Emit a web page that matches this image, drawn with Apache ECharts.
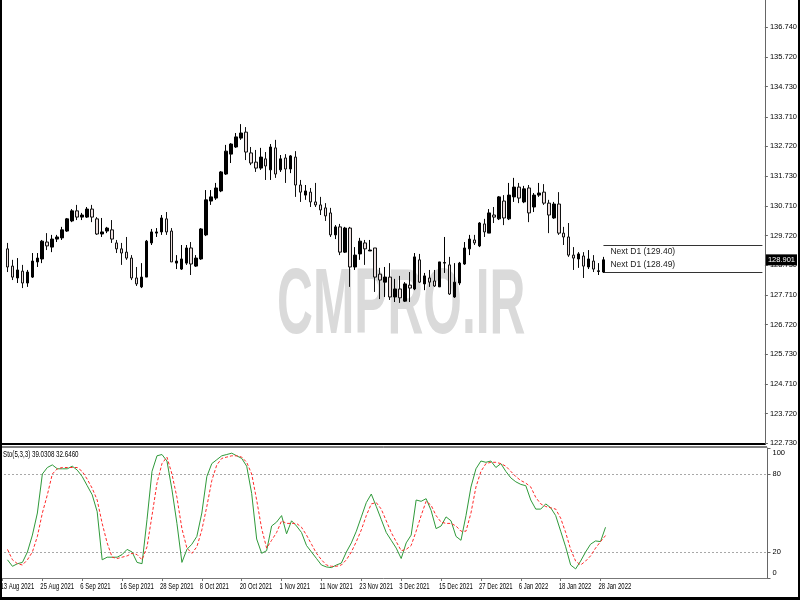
<!DOCTYPE html>
<html><head><meta charset="utf-8">
<script src="https://cdn.jsdelivr.net/npm/echarts@6/dist/echarts.min.js"></script>
<style>html,body{margin:0;padding:0;background:#fff}#c{width:800px;height:600px}</style>
</head><body><div id="c"></div>
<script>
// ---------- data ----------
const leftLabel = '13 Aug 2021';
const dates = [
 '16 Aug 2021','17 Aug 2021','18 Aug 2021','19 Aug 2021','20 Aug 2021','23 Aug 2021','24 Aug 2021','25 Aug 2021','26 Aug 2021','27 Aug 2021','30 Aug 2021','31 Aug 2021',
 '1 Sep 2021','2 Sep 2021','3 Sep 2021','6 Sep 2021','7 Sep 2021','8 Sep 2021','9 Sep 2021','10 Sep 2021','13 Sep 2021','14 Sep 2021','15 Sep 2021','16 Sep 2021','17 Sep 2021','20 Sep 2021','21 Sep 2021','22 Sep 2021','23 Sep 2021','24 Sep 2021','27 Sep 2021','28 Sep 2021','29 Sep 2021','30 Sep 2021',
 '1 Oct 2021','4 Oct 2021','5 Oct 2021','6 Oct 2021','7 Oct 2021','8 Oct 2021','11 Oct 2021','12 Oct 2021','13 Oct 2021','14 Oct 2021','15 Oct 2021','18 Oct 2021','19 Oct 2021','20 Oct 2021','21 Oct 2021','22 Oct 2021','25 Oct 2021','26 Oct 2021','27 Oct 2021','28 Oct 2021','29 Oct 2021',
 '1 Nov 2021','2 Nov 2021','3 Nov 2021','4 Nov 2021','5 Nov 2021','8 Nov 2021','9 Nov 2021','10 Nov 2021','11 Nov 2021','12 Nov 2021','15 Nov 2021','16 Nov 2021','17 Nov 2021','18 Nov 2021','19 Nov 2021','22 Nov 2021','23 Nov 2021','24 Nov 2021','25 Nov 2021','26 Nov 2021','29 Nov 2021','30 Nov 2021',
 '1 Dec 2021','2 Dec 2021','3 Dec 2021','6 Dec 2021','7 Dec 2021','8 Dec 2021','9 Dec 2021','10 Dec 2021','13 Dec 2021','14 Dec 2021','15 Dec 2021','16 Dec 2021','17 Dec 2021','20 Dec 2021','21 Dec 2021','22 Dec 2021','23 Dec 2021','24 Dec 2021','27 Dec 2021','28 Dec 2021','29 Dec 2021','30 Dec 2021','31 Dec 2021',
 '3 Jan 2022','4 Jan 2022','5 Jan 2022','6 Jan 2022','7 Jan 2022','10 Jan 2022','11 Jan 2022','12 Jan 2022','13 Jan 2022','14 Jan 2022','17 Jan 2022','18 Jan 2022','19 Jan 2022','20 Jan 2022','21 Jan 2022','24 Jan 2022','25 Jan 2022','26 Jan 2022','27 Jan 2022','28 Jan 2022','31 Jan 2022'
];
const open = [
 129.27,128.69,128.29,128.52,128.12,128.32,128.83,128.93,129.50,129.33,
 129.60,129.64,129.87,130.21,130.55,130.34,130.34,130.61,130.28,129.77,
 129.87,129.91,129.47,129.27,129.16,128.96,128.29,127.99,128.32,129.47,
 129.80,129.84,130.28,129.87,128.79,128.59,128.79,129.30,128.69,128.93,
 129.74,130.88,130.98,131.22,131.79,132.46,132.70,133.00,133.20,132.50,
 132.19,131.99,132.30,131.93,132.67,131.93,132.33,131.96,132.36,131.42,
 131.08,131.18,130.85,130.75,130.65,130.48,129.74,130.01,129.16,129.97,
 128.66,129.10,129.47,129.20,129.30,128.42,128.15,128.32,127.65,127.92,
 127.51,128.05,127.92,128.90,128.09,128.29,128.19,127.99,128.79,128.73,
 127.65,128.12,128.76,129.27,129.57,129.37,130.11,129.80,130.41,130.28,
 130.88,130.28,131.02,131.35,130.85,131.32,130.68,131.08,131.18,130.81,
 130.31,130.78,129.80,129.67,129.06,128.93,129.03,128.66,128.86,128.51,
 128.49
];
const close = [
 128.66,128.32,128.56,128.12,128.49,128.86,128.96,129.53,129.37,129.60,
 129.67,129.91,130.28,130.55,130.34,130.41,130.61,130.34,129.77,129.84,
 129.97,129.60,129.27,129.13,128.96,128.29,128.09,128.32,129.53,129.84,
 129.84,130.31,129.84,128.83,128.86,128.93,129.30,128.76,128.96,129.94,
 130.92,131.02,131.32,131.86,132.56,132.80,133.04,133.17,132.53,132.16,
 131.99,132.36,132.06,132.70,131.79,132.30,131.96,132.40,131.42,131.18,
 131.22,130.85,130.75,130.58,130.38,129.74,130.01,129.16,129.97,128.66,
 129.06,129.53,129.27,129.23,128.32,128.22,128.32,127.65,127.92,127.62,
 128.09,127.95,129.00,128.15,128.36,128.15,128.02,128.83,128.81,127.75,
 128.15,128.79,129.30,129.60,129.47,130.14,129.84,130.48,130.34,131.02,
 130.31,131.08,131.35,130.98,131.29,130.48,131.08,131.15,130.81,130.41,
 130.78,129.80,129.67,129.06,128.96,129.10,128.69,128.93,128.59,128.53,
 128.901
];
const low = [
 128.49,128.22,128.12,127.95,127.99,128.29,128.66,128.79,129.23,129.16,
 129.50,129.57,129.84,130.17,130.24,130.24,130.31,130.17,129.74,129.67,
 129.80,129.47,129.13,128.73,128.90,128.22,128.02,127.95,128.32,129.40,
 129.67,129.74,129.74,128.83,128.59,128.56,128.73,128.39,128.66,128.90,
 129.70,130.75,130.92,131.18,131.76,132.16,132.67,132.94,132.26,132.09,
 131.86,131.93,131.59,131.59,131.66,131.86,131.49,131.82,131.02,130.85,
 130.92,130.68,130.68,130.41,130.21,129.67,129.60,129.06,129.13,127.99,
 128.56,128.90,128.73,129.20,127.82,127.58,127.65,127.55,127.48,127.45,
 127.48,127.48,127.88,128.12,127.88,127.99,127.99,127.99,128.46,127.72,
 127.62,128.05,128.73,129.06,129.40,129.33,129.67,129.80,130.14,130.24,
 130.07,130.24,130.85,130.81,130.81,130.17,130.51,131.02,130.75,129.80,
 130.28,129.74,129.40,129.00,128.56,128.63,128.29,128.59,128.49,128.39,
 128.46
];
const high = [
 129.47,128.90,128.96,128.73,128.56,129.13,129.13,129.57,129.80,129.74,
 129.74,130.01,130.31,130.61,130.75,130.48,130.68,130.75,130.34,130.31,
 130.01,130.24,129.57,129.47,129.67,129.06,128.66,128.79,129.57,129.94,
 129.97,130.41,130.51,129.97,129.06,129.40,129.40,129.50,129.06,129.97,
 131.25,131.25,131.49,131.89,132.77,132.83,133.17,133.47,133.37,132.70,
 132.60,132.67,132.53,132.80,132.94,132.43,132.46,132.43,132.56,131.59,
 131.42,131.32,131.49,131.02,130.81,130.65,130.07,130.11,130.01,130.01,
 129.33,129.64,129.57,129.57,129.30,128.63,128.66,128.79,128.26,128.36,
 128.15,128.49,129.13,129.10,128.46,128.56,128.56,128.83,129.67,129.00,
 128.79,128.83,129.50,129.74,129.74,130.17,130.28,130.61,130.68,131.05,
 131.08,131.49,131.66,131.49,131.39,131.42,131.15,131.49,131.45,130.92,
 130.85,131.18,130.01,130.14,129.33,129.16,129.16,129.23,129.06,128.79,
 129.00
];
const stochK = [
 14,9,11,12,20,33,50,80,85,87,
 84,84,84,86,83,78,71,64,51,14,
 16,16,16,18,22,20,12,11,45,82,
 94,95,90,68,42,12,22,26,32,50,
 78,88,91,94,95,96,94,92,86,65,
 30,19,21,40,43,48,34,44,40,35,
 25,20,15,10,8.5,8,10,11.5,20,27,
 36,47,58,64.6,55,45,35,29,23,15,
 27,33,60,59,61,52,38,40,47,44,
 32,29,48,70,84,90,89,90,85,88,
 82,77,74,72,71,60,53,53,57,54,
 48,36,24,10,7,13,20,26,28.5,28,
 39.0308
];
const stochD = [
 22,14,11,10,14,20,32,50,64,80,
 84,85,85,85,85,82,76,69,60,42,
 27,16,15,16,17,19,18,14,24,48,
 73,88,93,80,62,38,23,19,24,37,
 55,75,87,92,93,94,94,93,89,80,
 60,38,23,29,35,44,42,42,42,39,
 33,26,19,14,10,9,9,10,14,20,
 28,37,48,57,58,53,44,35,28,21,
 22,25,36,48,59,56,48,43,42,42,
 40,36,36,50,70,82,88,89,89,88,
 86,82,78,75,73,70,62,57,55,54,
 53,46,35,22,13,10,13,17,23,28,
 32.646
];
const priceTicks = [136.740,135.720,134.730,133.710,132.720,131.730,130.710,129.720,128.730,127.710,126.720,125.730,124.710,123.720,122.730];
const stochTicks = [0,20,80,100];
const stochLevels = [20,80];
const nextD1 = [129.40,128.49];
const lastPrice = 128.901;
const stoText = 'Sto(5,3,3) 39.0308 32.6460';
const watermark = 'CMPRO.IR';
const futureBars = 32;

// ---------- build ----------
const cats = [leftLabel].concat(dates);
for (let i = 0; i < futureBars; i++) cats.push('f' + i);
const lastIdx = cats.length - 1;
const candles = ['-'].concat(dates.map((d, i) => [open[i], close[i], low[i], high[i]]));
const kData = ['-'].concat(stochK);
const dData = ['-'].concat(stochD);
const FONT = '"Liberation Sans",Arial,sans-serif';
const showLab = (i) => i % 8 === 0 && i <= dates.length;

const chart = echarts.init(document.getElementById('c'), null, {renderer: 'canvas'});
chart.setOption({
  animation: false,
  backgroundColor: '#fff',
  grid: [
    {left: -2.5, top: 0, width: 770, height: 444},
    {left: -2.5, top: 448, width: 770, height: 130}
  ],
  xAxis: [
    {type: 'category', gridIndex: 0, data: cats, boundaryGap: true,
     axisLine: {show: true, lineStyle: {color: '#000', width: 2}},
     axisTick: {show: false}, axisLabel: {show: false}, splitLine: {show: false}},
    {type: 'category', gridIndex: 1, data: cats, boundaryGap: true,
     axisLine: {show: true, lineStyle: {color: '#777', width: 1}},
     axisTick: {show: true, alignWithLabel: true, interval: showLab, length: 3, lineStyle: {color: '#777'}},
     axisLabel: {show: false},
     splitLine: {show: false}}
  ],
  yAxis: [
    {type: 'value', gridIndex: 0, position: 'right', min: 122.70, max: 137.649, scale: true,
     axisLine: {show: true, lineStyle: {color: '#666'}},
     axisTick: {show: true, length: 3, customValues: priceTicks, lineStyle: {color: '#666'}},
     axisLabel: {show: true, customValues: priceTicks, margin: 5, fontSize: 7.5, color: '#000', fontFamily: FONT,
       formatter: v => v.toFixed(3)},
     splitLine: {show: false}},
    {type: 'value', gridIndex: 1, position: 'right', min: 0, max: 100,
     axisLine: {show: true, lineStyle: {color: '#666'}},
     axisTick: {show: true, length: 3, customValues: stochTicks, lineStyle: {color: '#666'}},
     axisLabel: {show: true, customValues: stochTicks, margin: 5, fontSize: 7.5, color: '#000', fontFamily: FONT,
       formatter: v => v === 100 ? '{t|100}' : (v === 0 ? '{b|0}' : String(v)),
       rich: {t: {padding: [10, 0, 0, 0], fontSize: 7.5, fontFamily: FONT}, b: {padding: [0, 0, 10, 0], fontSize: 7.5, fontFamily: FONT}}},
     splitLine: {show: false}}
  ],
  series: [
    {type: 'candlestick', xAxisIndex: 0, yAxisIndex: 0, data: candles, barWidth: 3, z: 5,
     itemStyle: {color: '#000', color0: '#ecdfdf', borderColor: '#000', borderColor0: '#111', borderWidth: 1},
     markLine: {silent: true, symbol: ['none', 'none'], animation: false,
       data: [
         {yAxis: lastPrice, lineStyle: {color: 'rgba(0,0,0,0)', width: 0},
          label: {show: true, position: 'end', distance: 1, formatter: lastPrice.toFixed(3), backgroundColor: '#000', color: '#fff',
                  padding: [2, 2, 1, 2], fontSize: 7.5, fontFamily: FONT}},
         [{coord: [dates.length, nextD1[0]], lineStyle: {color: '#333', width: 1, type: 'solid'},
           label: {show: true, position: 'insideStartBottom', distance: 2, offset: [5, 0], formatter: 'Next D1 (' + nextD1[0].toFixed(2) + ')',
                   color: '#222', fontSize: 8.5, fontFamily: FONT}},
          {coord: [lastIdx, nextD1[0]]}],
         [{coord: [dates.length, nextD1[1]], lineStyle: {color: '#333', width: 1, type: 'solid'},
           label: {show: true, position: 'insideStartTop', distance: 2, offset: [5, -1], formatter: 'Next D1 (' + nextD1[1].toFixed(2) + ')',
                   color: '#222', fontSize: 8.5, fontFamily: FONT}},
          {coord: [lastIdx, nextD1[1]]}]
       ]}},
    {type: 'line', name: 'K', xAxisIndex: 1, yAxisIndex: 1, data: kData, showSymbol: false, z: 5,
     lineStyle: {color: '#2f9a3a', width: 1},
     markLine: {silent: true, symbol: ['none', 'none'], animation: false, label: {show: false},
       lineStyle: {color: '#a8a8a8', type: [2, 2], width: 1},
       data: stochLevels.map(v => ({yAxis: v}))}},
    {type: 'line', name: 'D', xAxisIndex: 1, yAxisIndex: 1, data: dData, showSymbol: false, z: 6,
     lineStyle: {color: '#ff2a2a', width: 1, type: [3, 2]}}
  ]
});

// condensed date labels placed through the category scale
const dateLabels = cats.map((c, i) => i).filter(showLab).map(i => ({
  type: 'text', z: 50, silent: true,
  x: chart.convertToPixel({xAxisIndex: 1}, i) - 2, y: 582, scaleX: 0.66,
  style: {text: cats[i], font: '9px ' + FONT, fill: '#000'}
}));
chart.setOption({
  graphic: [
    {type: 'text', z: 0, x: 277, y: 262, silent: true, scaleX: 0.54,
     style: {text: watermark, font: 'bold 92px ' + FONT, fill: '#dadada'}},
    {type: 'text', z: 50, x: 3, y: 450, silent: true, scaleX: 0.73,
     style: {text: stoText, font: '8.5px ' + FONT, fill: '#000'}},
    {type: 'line', z: 50, silent: true, shape: {x1: 0, y1: 447, x2: 767, y2: 447}, style: {stroke: '#000', lineWidth: 1}},
    {type: 'rect', z: 60, silent: true, shape: {x: 0, y: 0, width: 2, height: 600}, style: {fill: '#000'}},
    {type: 'rect', z: 60, silent: true, shape: {x: 0, y: 597, width: 800, height: 3}, style: {fill: '#000'}},
    {type: 'rect', z: 60, silent: true, shape: {x: 798, y: 0, width: 2, height: 600}, style: {fill: '#000'}}
  ].concat(dateLabels)
});
</script></body></html>
